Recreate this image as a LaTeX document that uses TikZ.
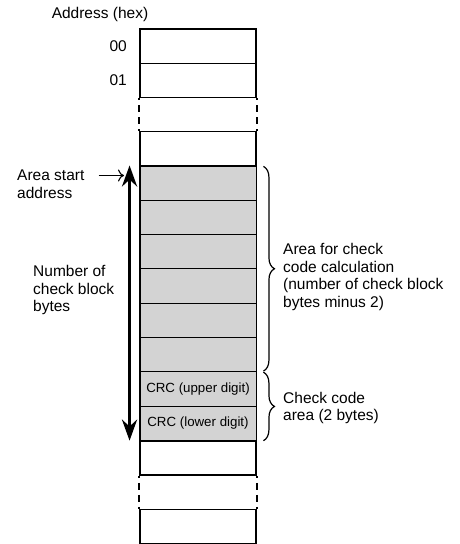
\documentclass[tikz,border=0pt]{standalone}
\usepackage{fontspec}
\setmainfont{Liberation Sans}
\usetikzlibrary{arrows.meta,decorations.pathreplacing}
\definecolor{cellgray}{RGB}{211,211,211}
\tikzset{
  memcell/.style={draw, rectangle, line width=1.6pt, minimum width=116pt, minimum height=34.3pt, inner sep=0pt},
  graycell/.style={memcell, line width=0.9pt, fill=cellgray, font=\fontsize{13.3}{15}\selectfont},
  lbl/.style={align=left, inner sep=0pt, font=\fontsize{15.5}{17.5}\selectfont},
  gapline/.style={line width=1.6pt, dash pattern=on 7pt off 5pt, dash phase=5pt},
  bigarrow/.style={line width=3.5pt, {Stealth[length=21pt,width=15pt]}-{Stealth[length=21pt,width=15pt]}},
  ptr/.style={line width=1.1pt, -{To[length=6pt,width=12pt]}},
  brc/.style={line width=1.2pt, decorate, decoration={brace, amplitude=11pt}}
}
\begin{document}
\begin{tikzpicture}[x=1pt, y=-1pt, >=stealth]
\useasboundingbox (0,0) rectangle (459,544);

\node[graycell] (g1) at (198,183) {};
\node[graycell] (g2) at (198,217.3) {};
\node[graycell] (g3) at (198,251.6) {};
\node[graycell] (g4) at (198,285.9) {};
\node[graycell] (g5) at (198,320.2) {};
\node[graycell] (g6) at (198,354.5) {};
\node[graycell] (crch) at (198,388.8) {CRC (upper digit)};
\node[graycell] (crcl) at (198,423.1) {CRC (lower digit)};

\node[memcell] (a00) at (198,46.2) {};
\node[memcell] (a01) at (198,80.5) {};
\node[memcell] (r0) at (198,148.7) {};
\node[memcell] (r1) at (198,457.9) {};
\node[memcell] (last) at (198,526.5) {};
\draw[line width=1.6pt] (g1.north west) rectangle (crcl.south east);

\draw[gapline] (a01.south west) -- (r0.north west);
\draw[gapline] (a01.south east) -- (r0.north east);
\draw[gapline] (r1.south west) -- (last.north west);
\draw[gapline] (r1.south east) -- (last.north east);

\node[lbl] (addr) at (100,14) {Address (hex)};
\node[lbl, anchor=east] (l00) at (127,46) {00};
\node[lbl, anchor=east] (l01) at (127,80) {01};

\node[lbl, anchor=north west] (start) at (17,170) {Area start\\address};
\node[lbl, anchor=west] (count) at (33,290) {Number of\\check block\\bytes};
\node[lbl, anchor=west] (calc) at (283,277) {Area for check\\code calculation\\(number of check block\\bytes minus 2)};
\node[lbl, anchor=west] (chk) at (283,408) {Check code\\area (2 bytes)};

\coordinate (starttip) at (124,175.5);
\draw[ptr] ([shift={(14,5.5)}]start.north east) -- (starttip);
\draw[bigarrow] ([xshift=-10pt]g1.north west) -- ([xshift=-10pt]crcl.south west);

\draw[brc] ([shift={(7,1)}]g1.north east) -- ([shift={(7,-1)}]g6.south east);
\draw[brc] ([shift={(7,1)}]crch.north east) -- ([xshift=7pt]crcl.south east);
\end{tikzpicture}
\end{document}
